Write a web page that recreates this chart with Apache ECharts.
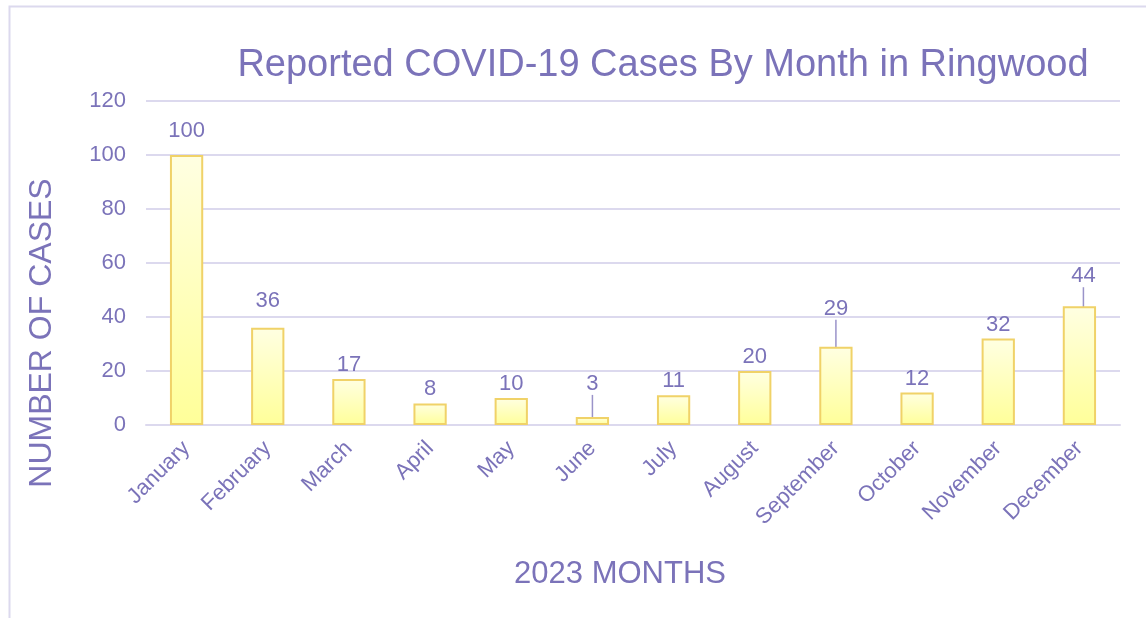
<!DOCTYPE html>
<html>
<head>
<meta charset="utf-8">
<script src="https://cdn.jsdelivr.net/npm/echarts@6/dist/echarts.min.js"></script>
<style>
  html, body { margin: 0; padding: 0; background: #ffffff; }
  #chart { width: 1146px; height: 618px; }
</style>
</head>
<body>
<div id="chart"></div>
<script>
const months = ['January', 'February', 'March', 'April', 'May', 'June',
  'July', 'August', 'September', 'October', 'November', 'December']
const cases = [100, 36, 17, 8, 10, 3, 11, 20, 29, 12, 32, 44]
const yTicks = [0, 20, 40, 60, 80, 100, 120]

const textColor = '#7b73b9'
const gridColor = '#dcd9ee'

// labels that sit higher than the bar top, some with leader lines
const labelShift = {0: -10, 1: -13, 5: -19, 8: -24, 11: -16}
const withLine = [5, 8, 11]

const chart = echarts.init(document.getElementById('chart'))

const option = {
  animation: false,
  backgroundColor: '#ffffff',
  textStyle: { fontFamily: 'Liberation Sans, Arial, sans-serif' },
  graphic: [{
    type: 'rect',
    left: 7, top: 4,
    shape: { width: 1200, height: 700 },
    style: { fill: 'none', stroke: gridColor, lineWidth: 2 },
    silent: true
  }, {
    // y axis name
    type: 'text',
    x: 42, y: 333,
    rotation: Math.PI / 2,
    style: {
      text: 'NUMBER OF CASES',
      fill: textColor,
      fontSize: 32,
      fontFamily: 'Liberation Sans, Arial, sans-serif',
      align: 'center',
      verticalAlign: 'middle'
    }
  }, {
    // x axis name
    type: 'text',
    x: 620, y: 574,
    style: {
      text: '2023 MONTHS',
      fill: textColor,
      fontSize: 31,
      fontFamily: 'Liberation Sans, Arial, sans-serif',
      align: 'center',
      verticalAlign: 'middle'
    }
  }],
  title: {
    text: 'Reported COVID-19 Cases By Month in Ringwood',
    left: 658,
    top: 42,
    textAlign: 'center',
    textStyle: { color: textColor, fontSize: 38, fontWeight: 'normal' }
  },
  grid: { left: 146, right: 26, top: 101, bottom: 193 },
  xAxis: {
    type: 'category',
    data: months,
    axisLine: { lineStyle: { color: gridColor, width: 2 } },
    axisTick: { show: false },
    axisLabel: { color: textColor, fontSize: 22, rotate: 45, margin: 20, interval: 0 }
  },
  yAxis: {
    type: 'value',
    min: yTicks[0],
    max: yTicks[yTicks.length - 1],
    interval: 20,
    axisLine: { show: false },
    axisTick: { show: false },
    axisLabel: { color: textColor, fontSize: 22, margin: 20 },
    splitLine: { lineStyle: { color: gridColor, width: 2 } }
  },
  series: [{
    type: 'bar',
    barWidth: '41%',
    data: cases.map((v, i) => ({
      value: v,
      labelLine: { show: withLine.includes(i) }
    })),
    itemStyle: {
      color: new echarts.graphic.LinearGradient(0, 0, 0, 1, [
        { offset: 0, color: '#ffffe2' },
        { offset: 1, color: '#ffff99' }
      ]),
      borderColor: '#f0d268',
      borderWidth: 2
    },
    label: {
      show: true,
      position: 'top',
      distance: 3,
      color: textColor,
      fontSize: 22
    },
    labelLine: { lineStyle: { color: '#9a93c9', width: 1.5 } },
    labelLayout: function (p) {
      const dy = labelShift[p.dataIndex]
      if (!dy) return {}
      return p.dataIndex === 11 ? { dy: dy, dx: 4 } : { dy: dy }
    }
  }]
}

chart.setOption(option)
</script>
</body>
</html>
